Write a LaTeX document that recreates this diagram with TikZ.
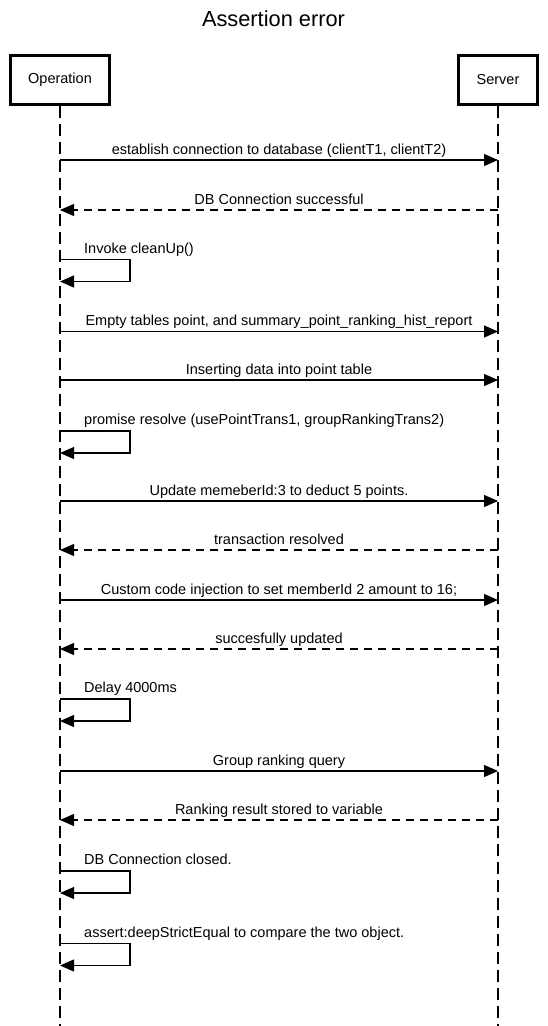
\documentclass[tikz,border=0pt]{standalone}
\usepackage{fontspec}
\setmainfont{Liberation Sans}
\usetikzlibrary{arrows.meta}
\begin{document}
\begin{tikzpicture}[x=1pt,y=-1pt,
  font=\fontsize{14.5}{17}\selectfont,
  actor/.style={draw,line width=2.5pt,minimum height=49pt,minimum width=#1,inner sep=0pt},
  lifeline/.style={line width=1.2pt,dash pattern=on 12pt off 6pt},
  msg/.style={line width=1.1pt,-{Triangle[length=14pt,width=12pt]}},
  ret/.style={msg,dash pattern=on 8pt off 6pt},
  lbl/.style={anchor=base,inner sep=0pt},
  selflbl/.style={anchor=base west,inner sep=0pt}]
\useasboundingbox (0,0) rectangle (547,1026);
\node[font=\fontsize{21.8}{26}\selectfont] (title) at (273.5,19) {Assertion error};
\node[actor=99pt] (op) at (60,80) {Operation};
\node[actor=79pt] (sv) at (498,80) {Server};
\coordinate (opend) at (60,1026);
\coordinate (svend) at (498,1026);
\draw[lifeline] (op.south) -- (opend);
\draw[lifeline] (sv.south) -- (svend);
% messages
\foreach \n/\y in {1/160,2/210,4/331.5,5/380,7/501,8/550,9/600,10/649,12/771,13/820}{
  \coordinate (o\n) at (60,\y);
  \coordinate (s\n) at (498,\y);
  \coordinate (m\n) at (279,\y-6);
}
\draw[msg] (o1) -- (s1);
\node[lbl] (l1) at (m1) {establish connection to database (clientT1, clientT2)};
\draw[ret] (s2) -- (o2);
\node[lbl] (l2) at (m2) {DB Connection successful};
\draw[msg] (o4) -- (s4);
\node[lbl] (l4) at (m4) {Empty tables point, and summary\_point\_ranking\_hist\_report};
\draw[msg] (o5) -- (s5);
\node[lbl] (l5) at (m5) {Inserting data into point table};
\draw[msg] (o7) -- (s7);
\node[lbl] (l7) at (m7) {Update memeberId:3 to deduct 5 points.};
\draw[ret] (s8) -- (o8);
\node[lbl] (l8) at (m8) {transaction resolved};
\draw[msg] (o9) -- (s9);
\node[lbl] (l9) at (m9) {Custom code injection to set memberId 2 amount to 16;};
\draw[ret] (s10) -- (o10);
\node[lbl] (l10) at (m10) {succesfully updated};
\draw[msg] (o12) -- (s12);
\node[lbl] (l12) at (m12) {Group ranking query};
\draw[ret] (s13) -- (o13);
\node[lbl] (l13) at (m13) {Ranking result stored to variable};
% self messages
\foreach \n/\y in {3/259.5,6/431,11/699,14/871,15/943.5}{
  \coordinate (a\n) at (60,\y);
  \coordinate (b\n) at (60,\y+22);
  \coordinate (t\n) at (84,\y-6.5);
}
\foreach \n in {3,6,11,14,15}{
  \draw[msg] (a\n) -| ([xshift=70pt]b\n) -- (b\n);
}
\node[selflbl] (l3) at (t3) {Invoke cleanUp()};
\node[selflbl] (l6) at (t6) {promise resolve (usePointTrans1, groupRankingTrans2)};
\node[selflbl] (l11) at (t11) {Delay 4000ms};
\node[selflbl] (l14) at (t14) {DB Connection closed.};
\node[selflbl] (l15) at (t15) {assert:deepStrictEqual to compare the two object.};
\end{tikzpicture}
\end{document}
